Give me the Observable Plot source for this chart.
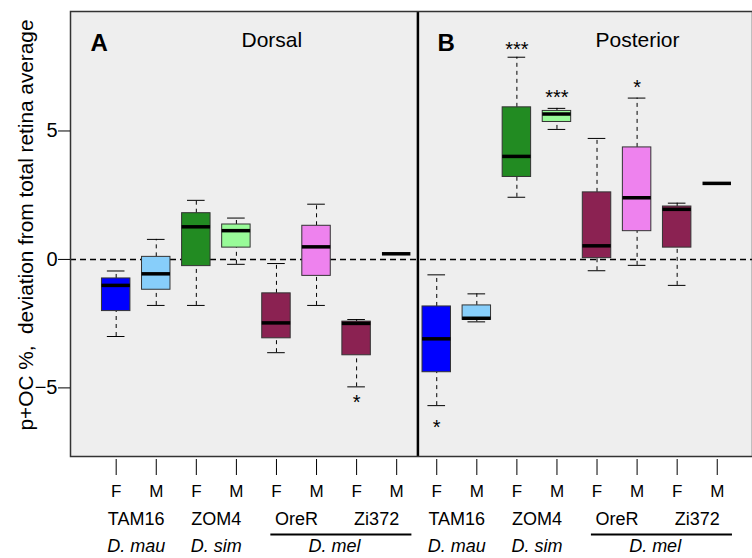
<!DOCTYPE html>
<html>
<head>
<meta charset="utf-8">
<script src="https://cdn.jsdelivr.net/npm/d3@7"></script>
<script src="https://cdn.jsdelivr.net/npm/@observablehq/plot@0.6"></script>
<style>
  body { margin: 0; background: #fff; }
  #chart svg { display: block; }
</style>
</head>
<body>
<div id="chart"></div>
<script>
// ---- data ----
const positions = [1, 2, 3, 4, 5, 6, 7, 8, 9, 10, 11, 12, 13, 14, 15, 16];
const sexes = ["F","M","F","M","F","M","F","M","F","M","F","M","F","M","F","M"];
const strains = ["TAM16", "ZOM4", "OreR", "Zi372"];
const species = ["D. mau", "D. sim", "D. mel"];
const panelTitles = ["Dorsal", "Posterior"];
const panelLetters = ["A", "B"];
const groupColors = ["#0000FF", "#87CEFA", "#228B22", "#98FB98", "#8B2252", "#EE82EE", "#8B2252", "#8B2252"];

const lowerWhisker = [-3.00, -1.79, -1.79, -0.19, -3.63, -1.79, -4.96, null, -5.69, -2.43, 2.42, 5.06, -0.44, -0.23, -1.01, null];
const q1Values     = [-2.01, -1.18, -0.26,  0.46, -3.07, -0.64, -3.73, null, -4.39, -2.35, 3.21, 5.35,  0.05,  1.10,  0.46, null];
const medianValues = [-1.01, -0.56,  1.27,  1.12, -2.47,  0.49, -2.49, 0.22, -3.09, -2.29, 4.01, 5.66,  0.53,  2.40,  1.95, 2.96];
const q3Values     = [-0.74,  0.10,  1.80,  1.36, -1.32,  1.31, -2.42, null, -1.83, -1.79, 5.92, 5.78,  2.61,  4.36,  2.06, null];
const upperWhisker = [-0.45,  0.78,  2.30,  1.61, -0.16,  2.15, -2.34, null, -0.60, -1.34, 7.87, 5.88,  4.71,  6.28,  2.19, null];

// significance marks: group position, label, y value of the mark
const sigPositions = [7, 9, 11, 12, 14];
const sigLabels = ["*", "*", "***", "***", "*"];
const sigY = [-5.36, -6.36, 8.37, 6.50, 6.89];

const yTicks = [-5, 0, 5];
const yLabel = "p+OC %,  deviation from total retina average";
const yDomain = [-7.67, 9.65];
const xDomain = [-0.14, 16.88];
const dividerX = 8.53;

// ---- derived tables ----
const rows = positions.map((p, i) => ({
  pos: p,
  lo: lowerWhisker[i], q1: q1Values[i], med: medianValues[i], q3: q3Values[i], hi: upperWhisker[i],
  color: groupColors[i % 8]
}));
const boxed = rows.filter(d => d.q1 != null);

const strainRows = [];
const speciesRows = [];
const melLines = [];
for (let panel = 0; panel < 2; panel++) {
  const base = panel * 8;
  strains.forEach((s, k) => strainRows.push({ pos: positions[base + 2 * k] + 0.5, label: s }));
  speciesRows.push({ pos: positions[base] + 0.5, label: species[0] });
  speciesRows.push({ pos: positions[base + 2] + 0.5, label: species[1] });
  speciesRows.push({ pos: positions[base + 5] + 0.45, label: species[2] });
  melLines.push({ x1: positions[base + 4] - 0.14, x2: positions[base + 7] + 0.38 });
}
const sigRows = sigPositions.map((p, i) => ({ pos: p, label: sigLabels[i], y: sigY[i] }));

const boxHalf = 0.355, capHalf = 0.22;
const font = "'Liberation Sans', Arial, Helvetica, sans-serif";

const chart = Plot.plot({
  width: 752,
  height: 558,
  marginLeft: 70,
  marginRight: 0,
  marginTop: 11,
  marginBottom: 102,
  x: { domain: xDomain, axis: null },
  y: { domain: yDomain, axis: null },
  style: { fontFamily: font, background: "#ffffff", color: "#000" },
  marks: [
    Plot.frame({ fill: "#eeeeee" }),
    Plot.ruleY([0], { stroke: "#000", strokeWidth: 1.5, strokeDasharray: "6,4" }),
    // whiskers
    Plot.ruleX(boxed, { x: "pos", y1: "q3", y2: "hi", stroke: "#000", strokeWidth: 1, strokeDasharray: "4,4" }),
    Plot.ruleX(boxed, { x: "pos", y1: "lo", y2: "q1", stroke: "#000", strokeWidth: 1, strokeDasharray: "4,4" }),
    Plot.ruleY(boxed, { y: "hi", x1: d => d.pos - capHalf, x2: d => d.pos + capHalf, stroke: "#000", strokeWidth: 1 }),
    Plot.ruleY(boxed, { y: "lo", x1: d => d.pos - capHalf, x2: d => d.pos + capHalf, stroke: "#000", strokeWidth: 1 }),
    // boxes
    Plot.rect(boxed, { x1: d => d.pos - boxHalf, x2: d => d.pos + boxHalf, y1: "q1", y2: "q3", fill: "color", stroke: "#333", strokeWidth: 1 }),
    // medians
    Plot.ruleY(rows, { y: "med", x1: d => d.pos - boxHalf, x2: d => d.pos + boxHalf, stroke: "#000", strokeWidth: 3.5 }),
    // significance
    Plot.text(sigRows, { x: "pos", y: "y", text: "label", fontSize: 20, dy: 5, fill: "#000" }),
    // panel divider and frame
    Plot.ruleX([dividerX], { stroke: "#000", strokeWidth: 2.5 }),
    Plot.frame({ stroke: "#333", strokeWidth: 1.5 }),
    // panel titles
    Plot.text([panelLetters[0]], { frameAnchor: "top-left", dx: 20, dy: 22, fontSize: 24, fontWeight: "bold", fill: "#000" }),
    Plot.text([panelTitles[0]], { frameAnchor: "top-left", dx: 171, dy: 21, fontSize: 21, fill: "#000" }),
    Plot.text([panelLetters[1]], { frameAnchor: "top-left", dx: 367, dy: 22, fontSize: 24, fontWeight: "bold", fill: "#000" }),
    Plot.text([panelTitles[1]], { frameAnchor: "top-left", dx: 525, dy: 21, fontSize: 21, fill: "#000" }),
    // y axis
    Plot.axisY(yTicks, { tickSize: 12, tickPadding: 1, fontSize: 20, label: null, stroke: "#000" }),
    Plot.text([yLabel], { frameAnchor: "left", textAnchor: "middle", rotate: -90, dx: -44, dy: -9, fontSize: 20.8, fill: "#000" }),
    // x axis ticks (offset below the frame)
    Plot.axisX(positions, { tickSize: 16, tickFormat: () => "", dy: 3, label: null, stroke: "#000" }),
    // category labels
    Plot.text(positions, { x: d => d, text: (d, i) => sexes[i], frameAnchor: "bottom", dy: 40, fontSize: 17, fill: "#000" }),
    Plot.text(strainRows, { x: "pos", text: "label", frameAnchor: "bottom", dy: 68, fontSize: 18, fill: "#000" }),
    Plot.text(speciesRows, { x: "pos", text: "label", frameAnchor: "bottom", dy: 95, fontSize: 18, fontStyle: "italic", fill: "#000" }),
    Plot.ruleY(melLines, { y: () => yDomain[0], x1: "x1", x2: "x2", dy: 78, stroke: "#000", strokeWidth: 2 })
  ]
});
document.getElementById("chart").appendChild(chart);
</script>
</body>
</html>
